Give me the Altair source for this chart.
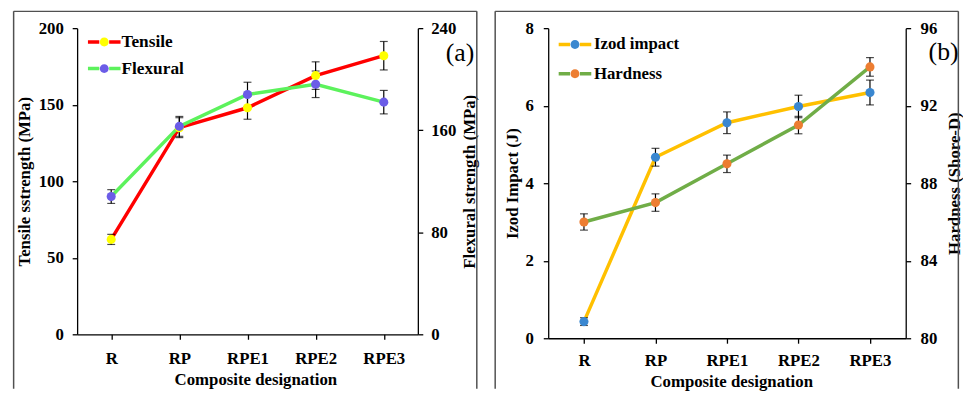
import altair as alt
import pandas as pd

# ---------------- data ----------------
categories = ["R", "RP", "RPE1", "RPE2", "RPE3"]

tensile = [62, 135, 148, 169, 182]
tensile_err = [3.3, 6.5, 7.5, 9.0, 9.3]
flexural = [108, 163, 188, 196, 182]
flexural_err = [5.4, 7.8, 9.6, 10.4, 9.2]

izod = [0.43, 4.67, 5.56, 5.98, 6.34]
izod_err = [0.1, 0.23, 0.28, 0.29, 0.32]
hardness = [86, 87, 89, 91, 94]
hardness_err = [0.42, 0.45, 0.45, 0.45, 0.48]

panel_tags = ["(a)", "(b)"]
x_title = "Composite designation"

FONT = "Liberation Serif, Times New Roman, serif"


def make_df(vals, errs, name):
    return pd.DataFrame({
        "cat": categories,
        "v": vals,
        "lo": [v - e for v, e in zip(vals, errs)],
        "hi": [v + e for v, e in zip(vals, errs)],
        "series": name,
        "pt": name + " pt",
    })


one = pd.DataFrame({"k": [0]})


def series_layers(df, dom, ticks, title, orient, label_pad, title_pad, stroke_enc, fill_enc):
    sc = alt.Scale(domain=dom, nice=False, zero=False)
    xs = alt.X("cat:N", sort=categories,
               scale=alt.Scale(type="point", domain=categories, padding=0.5))
    axis = alt.Axis(values=ticks, title=title, orient=orient, labelPadding=label_pad,
                    titlePadding=title_pad, titleAngle=270,
                    titleBaseline="top" if orient == "right" else "bottom",
                    labelFont=FONT, titleFont=FONT, labelFontWeight="bold",
                    titleFontWeight="bold")
    line = alt.Chart(df).mark_line(strokeWidth=3.5).encode(
        x=xs, y=alt.Y("v:Q", scale=sc, axis=axis), stroke=stroke_enc)
    rule = alt.Chart(df).mark_rule(color="black", strokeWidth=1.2).encode(
        x=xs, y=alt.Y("lo:Q", scale=sc, axis=None), y2="hi:Q")
    cap_lo = alt.Chart(df).mark_tick(color="black", size=8, thickness=1.2, orient="horizontal").encode(
        x=xs, y=alt.Y("lo:Q", scale=sc, axis=None))
    cap_hi = alt.Chart(df).mark_tick(color="black", size=8, thickness=1.2, orient="horizontal").encode(
        x=xs, y=alt.Y("hi:Q", scale=sc, axis=None))
    pts = alt.Chart(df).mark_circle(size=85, opacity=1, strokeWidth=0).encode(
        x=xs, y=alt.Y("v:Q", scale=sc, axis=None), fill=fill_enc)
    return line, [rule, cap_lo, cap_hi], pts


def panel(dfL, domL, ticksL, titleL, padL, tpadL,
          dfR, domR, ticksR, titleR, padR, tpadR,
          names, line_cols, mark_cols, width, height, frame, leg, tag, tag_xy, title_x,
          legend_font, xlab_pad):
    lx, ly, loff, rpad = leg
    line_path = "M-3.3,0H-1.0M1.0,0H3.3"
    circ_path = "M0.9,0A0.9,0.9,0,1,1,-0.9,0A0.9,0.9,0,1,1,0.9,0Z"
    stroke_enc = alt.Stroke("series:N", scale=alt.Scale(domain=names, range=line_cols),
                            legend=alt.Legend(orient="none", legendX=lx, legendY=ly, title=None,
                                              symbolType=line_path, symbolSize=100,
                                              symbolStrokeWidth=3.5, labelOffset=loff,
                                              rowPadding=rpad, padding=0,
                                              labelFont=FONT, labelFontSize=legend_font,
                                              labelFontWeight="bold", labelColor="black"))
    fill_enc = alt.Fill("pt:N", scale=alt.Scale(domain=[n + " pt" for n in names], range=mark_cols),
                        legend=alt.Legend(orient="none", legendX=lx, legendY=ly, title=None,
                                          symbolType=circ_path, symbolSize=100,
                                          symbolStrokeWidth=0, labelOffset=loff,
                                          rowPadding=rpad, padding=0, labelExpr="' '",
                                          labelFont=FONT, labelFontSize=legend_font,
                                          labelFontWeight="bold"))
    lineL, errL, ptsL = series_layers(dfL, domL, ticksL, titleL, "left", padL, tpadL, stroke_enc, fill_enc)
    lineR, errR, ptsR = series_layers(dfR, domR, ticksR, titleR, "right", padR, tpadR, stroke_enc, fill_enc)

    x0, x1, y0, y1 = frame
    fc = "#505050"
    fr = [
        alt.Chart(one).mark_rule(color=fc, strokeWidth=1.5).encode(
            x=alt.value(x0), y=alt.value(y0), y2=alt.value(y1)),
        alt.Chart(one).mark_rule(color=fc, strokeWidth=1.5).encode(
            x=alt.value(x0), x2=alt.value(x1), y=alt.value(y0)),
        alt.Chart(one).mark_rule(color=fc, strokeWidth=1.5).encode(
            x=alt.value(x1), y=alt.value(y0), y2=alt.value(y1)),
    ]
    txt = alt.Chart(one).mark_text(font=FONT, fontSize=26, color="black",
                                   align="center", baseline="middle").encode(
        x=alt.value(tag_xy[0]), y=alt.value(tag_xy[1]), text=alt.value(tag))

    # x axis holder (shared x scale)
    xaxis_layer = alt.Chart(dfL).mark_point(opacity=0).encode(
        x=alt.X("cat:N", sort=categories,
                scale=alt.Scale(type="point", domain=categories, padding=0.5),
                axis=alt.Axis(title=x_title, labelAngle=0, labelPadding=xlab_pad, titlePadding=5,
                              titleX=title_x, labelFont=FONT, titleFont=FONT,
                              labelFontWeight="bold", titleFontWeight="bold")),
        y=alt.Y("v:Q", scale=alt.Scale(domain=domL, nice=False), axis=None))

    layers = fr + [xaxis_layer, lineL, lineR] + errL + errR + [ptsL, ptsR, txt]
    return alt.layer(*layers).resolve_scale(y="independent").properties(width=width, height=height)


dfT = make_df(tensile, tensile_err, "Tensile")
dfF = make_df(flexural, flexural_err, "Flexural")
dfI = make_df(izod, izod_err, "Izod impact")
dfH = make_df(hardness, hardness_err, "Hardness")

pa = panel(dfT, [0, 200], [0, 50, 100, 150, 200], "Tensile sstrength (MPa)", 9, 5,
           dfF, [0, 240], [0, 80, 160, 240], "Flexural strength (MPa)", 8, 6,
           ["Tensile", "Flexural"], ["#FF0000", "#5CF25C"], ["#FFFF00", "#6B5CE7"],
           345, 310, (-64.3, 404.7, -17, 365), (18.7, 5.2, 8.7, 8), panel_tags[0],
           (387.7, 25.3), 180.5, 17.5, 12)

pb = panel(dfI, [0, 8], [0, 2, 4, 6, 8], "Izod Impact (J)", 10, 4,
           dfH, [80, 96], [80, 84, 88, 92, 96], "Hardness (Shore-D)", 9.5, 10,
           ["Izod impact", "Hardness"], ["#FFC000", "#70AD47"], ["#3A87D0", "#ED7D31"],
           362, 314, (-53.7, 415.3, -17, 365), (18.6, 8, 10.7, 11.7), panel_tags[1],
           (400.3, 24.3), 185.3, 17, 10)

chart = alt.hconcat(pa, pb, spacing=16).resolve_scale(
    x="independent", y="independent", stroke="independent", fill="independent"
).properties(
    padding={"left": 4, "top": 0, "right": 0, "bottom": 0}
).configure_view(stroke=None).configure_axis(
    domainColor="black", tickColor="black", labelColor="black", titleColor="black",
    labelFont=FONT, titleFont=FONT, labelFontWeight="bold", titleFontWeight="bold",
    labelFontSize=17, titleFontSize=17, grid=False, tickSize=5, domainWidth=1.3, tickWidth=1.3
)

chart.save("out.html", embed_options={"renderer": "svg", "actions": False})
